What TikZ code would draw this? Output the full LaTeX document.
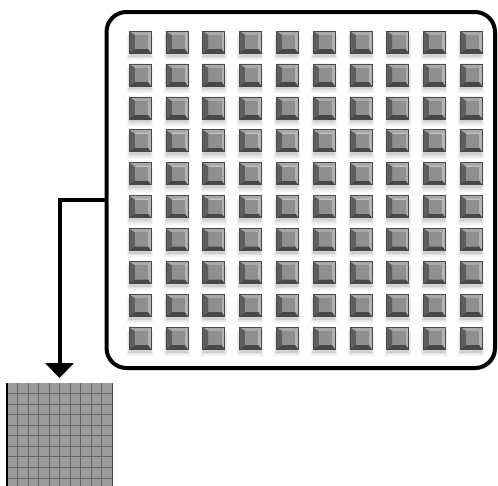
\documentclass[tikz,border=0pt]{standalone}
\usetikzlibrary{arrows.meta,shadows}
\definecolor{bevtop}{HTML}{A9A9A9}
\definecolor{bevleft}{HTML}{5E5E5E}
\definecolor{bevright}{HTML}{B2B2B2}
\definecolor{bevbot}{HTML}{474747}
\definecolor{bevface}{HTML}{8F8F8F}
\definecolor{bevline}{HTML}{4A4A4A}
\definecolor{gridfill}{HTML}{9C9C9C}
\definecolor{gridline}{HTML}{666666}
\tikzset{
  panel/.style={draw, line width=4pt, rounded corners=20pt, inner sep=0pt, outer sep=0pt, fill=white,
    drop shadow={shadow xshift=2pt, shadow yshift=-2pt, opacity=0.35}},
  tile/.style={fill=gridfill, inner sep=0pt, outer sep=0pt},
  flow/.style={line width=4pt, -{Triangle[width=28pt,length=15pt]}}
}
\begin{document}
\begin{tikzpicture}[x=1pt,y=-1pt]
\useasboundingbox (0,0) rectangle (498,485);
\clip (0,0) rectangle (498,485);
\node[panel, minimum width=388.5pt, minimum height=356pt] (box) at (300.75,190) {};
\foreach \i in {0,...,9}{
  \foreach \j in {0,...,9}{
    \pgfmathsetmacro\xa{129+36.8*\i}
    \pgfmathsetmacro\ya{31+32.9*\j}
    \begin{scope}[shift={(\xa,\ya)}]
      \fill[black,opacity=0.05] (-2,4) rectangle (24,29);
      \fill[black,opacity=0.06] (-1,4) rectangle (23,27);
      \fill[black,opacity=0.08] (0,4) rectangle (22,25.5);
      \fill[bevtop] (0,0)--(22,0)--(19,4)--(6,4)--cycle;
      \fill[bevleft] (0,0)--(6,4)--(6,18)--(0,22)--cycle;
      \fill[bevright] (22,0)--(22,22)--(19,18)--(19,4)--cycle;
      \fill[bevbot] (0,22)--(6,18)--(19,18)--(22,22)--cycle;
      \fill[bevface] (6,4) rectangle (19,18);
      \draw[bevline, line width=0.6pt] (0,0) rectangle (22,22);
    \end{scope}
  }
}
\node[tile, minimum width=105pt, minimum height=107pt] (grid) at (59.5,436.5) {};
\foreach \k in {1,...,9}{
  \draw[gridline, line width=0.8pt] (7+10.5*\k,383) -- (7+10.5*\k,490);
  \draw[gridline, line width=0.8pt] (7,383+10.55*\k) -- (112,383+10.55*\k);
}
\draw[black, line width=1.5pt] (grid.north west) -- (grid.south west);
\draw[bevline, line width=1pt] (grid.north east) -- (grid.south east);
\draw[flow] ([yshift=-10pt]box.west) -| ([yshift=5pt]grid.north);
\end{tikzpicture}
\end{document}
